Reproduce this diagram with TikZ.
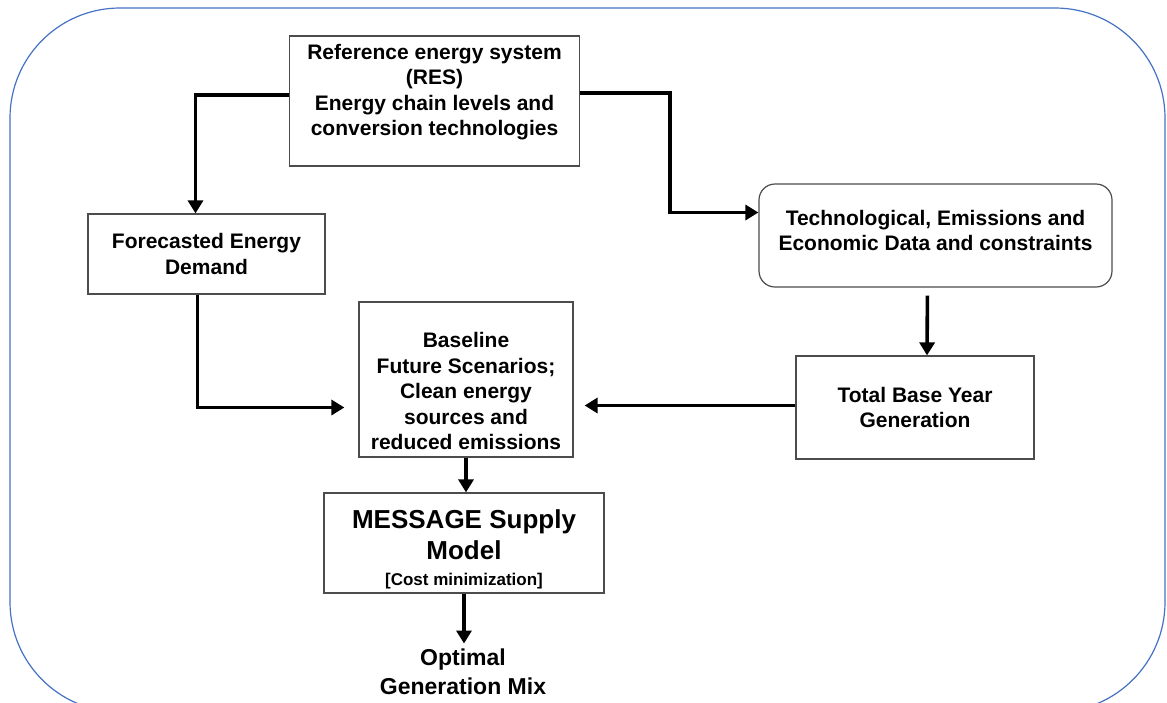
\documentclass[tikz,border=0pt]{standalone}
\usepackage{fontspec}
\setmainfont{Liberation Sans}
\usetikzlibrary{arrows.meta}
\definecolor{framecol}{RGB}{68,114,196}

\begin{document}
\begin{tikzpicture}[x=1pt, y=-1pt,
		box/.style={draw=black!70, line width=1.2pt, align=center, inner sep=0pt,
			font=\fontsize{21}{25.5}\selectfont\bfseries},
		flow/.style={line width=3.6pt, -{Triangle[length=13pt, width=15pt]}}]
			%%%%% START %%%%%
			
			\useasboundingbox (0, 0) rectangle (1167, 702);
			\begin{scope}
				\clip (0, 0) rectangle (1167, 702);
				\draw[framecol, line width=1.2pt, rounded corners=110pt] (10, 8) rectangle (1165, 712);
			\end{scope}
			
			\node[box, minimum width=290pt, minimum height=130pt] (res) at (434.5, 101)
				{Reference energy system\\(RES)\\Energy chain levels and\\conversion technologies\rule[-22pt]{0pt}{22pt}};
			\node[box, minimum width=237pt, minimum height=80pt] (fore) at (206.5, 254)
				{Forecasted Energy\\Demand};
			\node[box, rounded corners=16pt, minimum width=353pt, minimum height=103pt] (tech) at (935.5, 235.5)
				{Technological, Emissions and\\Economic Data and constraints\rule[-10pt]{0pt}{10pt}};
			\node[box, minimum width=238pt, minimum height=103pt] (total) at (915, 407.5)
				{Total Base Year\\Generation};
			\node[box, minimum width=214pt, minimum height=155pt] (base) at (466, 379.5)
				{\rule{0pt}{39pt}Baseline\\Future Scenarios;\\Clean energy\\sources and\\reduced emissions};
			\node[box, minimum width=280pt, minimum height=100pt] (msg) at (464, 543)
				{\fontsize{26}{32}\selectfont\rule{0pt}{31pt}MESSAGE Supply\\[6pt]\fontsize{26}{32}\selectfont Model\\[0pt]\fontsize{17}{20}\selectfont [Cost minimization]};
			\node[align=center, font=\fontsize{23}{29}\selectfont\bfseries] (opt) at (463, 672)
				{Optimal\\Generation Mix};
			
			\draw[flow] ([yshift=6pt]res.west) -| ([xshift=-11pt]fore.north);
			\draw[flow] ([yshift=8pt]res.east) -- ++(90, 0) |- ([yshift=23pt]tech.west);
			\draw[flow, shorten >=14pt] ([xshift=-9pt]fore.south) |- ([yshift=-28pt]base.west);
			\draw[flow, shorten <=8pt] ([xshift=-8pt]tech.south) -- ([xshift=12pt]total.north);
			\draw[flow, shorten >=11pt] ([yshift=2pt]total.west) -- ([yshift=2pt]total.west -| base.east);
			\draw[flow] (base.south) -- (base.south |- msg.north);
			\draw[flow, shorten >=2pt] (msg.south) -- (msg.south |- opt.north);
			
			%%%%% END %%%%%
		\end{tikzpicture}
\end{document}
